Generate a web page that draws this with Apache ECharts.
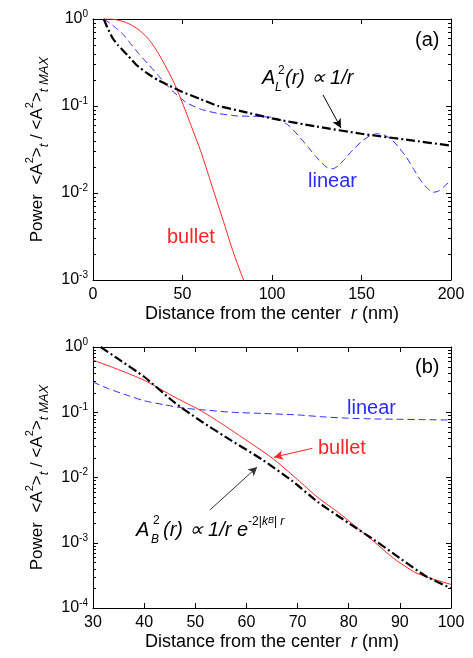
<!DOCTYPE html>
<html>
<head>
<meta charset="utf-8">
<script src="https://cdn.jsdelivr.net/npm/echarts@6/dist/echarts.min.js"></script>
<style>
  html, body { margin: 0; padding: 0; background: #fff; }
  #chart { width: 473px; height: 658px; }
</style>
</head>
<body>
<div id="chart"></div>
<script>
// ── Panel (a): 0..200 nm ─────────────────────────────────────────────────
const aBulletR = [6, 10, 14, 18, 22, 26, 30, 33, 36, 40, 45, 50, 55, 60, 65, 69, 74, 78, 82, 86];
const aBulletP = [1.0, 1.0, 0.97, 0.92, 0.84, 0.74, 0.62, 0.52, 0.42, 0.3, 0.19, 0.108, 0.058, 0.031, 0.015, 0.0083, 0.004, 0.0022, 0.0013, 0.0008];

const aLinearR = [6, 10, 13, 17, 21, 26, 31, 36, 40, 45, 52, 60, 70, 80, 90, 100, 105, 110, 115, 120, 124, 128, 131, 134, 137, 141, 145, 150, 155, 159, 163, 167, 171, 175, 179, 183, 187, 190, 193, 196, 200];
const aLinearP = [1.0, 0.88, 0.78, 0.66, 0.52, 0.39, 0.3, 0.23, 0.185, 0.145, 0.11, 0.092, 0.082, 0.077, 0.076, 0.074, 0.069, 0.058, 0.045, 0.034, 0.027, 0.022, 0.0195, 0.019, 0.0205, 0.025, 0.031, 0.039, 0.046, 0.048, 0.046, 0.041, 0.033, 0.026, 0.019, 0.014, 0.0112, 0.0102, 0.0105, 0.0118, 0.014];

const aFitR = [6, 8, 11, 14, 17, 20, 24, 30, 36, 43, 50, 60, 70, 82, 100, 125, 150, 175, 200];
const aFitP = [1.0, 0.8, 0.6, 0.5, 0.43, 0.37, 0.3, 0.24, 0.2, 0.17, 0.145, 0.12, 0.1, 0.088, 0.072, 0.058, 0.048, 0.041, 0.035];

// ── Panel (b): 30..100 nm ────────────────────────────────────────────────
const bBulletR = [30, 35, 40, 46, 51, 55, 59, 65, 70, 74, 78, 84, 89, 93, 97, 100];
const bBulletP = [0.63, 0.45, 0.31, 0.17, 0.107, 0.068, 0.042, 0.02, 0.0093, 0.0049, 0.0029, 0.0012, 0.00056, 0.00035, 0.00027, 0.00023];

const bLinearR = [30, 33, 36, 40, 44, 48, 52, 57, 63, 70, 75, 80, 85, 90, 95, 100];
const bLinearP = [0.29, 0.23, 0.19, 0.15, 0.13, 0.115, 0.108, 0.1, 0.096, 0.091, 0.085, 0.081, 0.079, 0.078, 0.077, 0.076];

const bFitR = [31.5, 35, 40, 46, 51, 57, 63, 69, 74, 80, 85, 90, 95, 100];
const bFitP = [1.0, 0.65, 0.35, 0.14, 0.074, 0.037, 0.019, 0.0088, 0.0042, 0.002, 0.0011, 0.00058, 0.00031, 0.0002];

// axis ranges / tick steps
const aXTicks = [0, 200, 50];
const bXTicks = [30, 100, 10];
const aYRange = [1e-3, 1];
const bYRange = [1e-4, 1];
const minorMantissa = [2, 3, 4, 5, 6, 7, 8, 9];

const RED = '#ff2424';
const BLUE = '#2b2bff';
const FONT = '"Liberation Sans", Arial, sans-serif';

const zip = (xs, ys) => xs.map((x, i) => [x, ys[i]]);

// minor ticks of a log axis (2..9 within each decade), drawn on both edges
function minorTicks(range, xAt) {
  const out = [];
  const lo = Math.round(Math.log10(range[0]));
  const hi = Math.round(Math.log10(range[1]));
  for (let k = lo; k < hi; k++) {
    minorMantissa.forEach(m => out.push([xAt, m * Math.pow(10, k)]));
  }
  return out;
}

function minorTickItem(params, api) {
  const cs = params.coordSys;
  const y = Math.round(api.coord([api.value(0), api.value(1)])[1]) + 0.5;
  const st = { stroke: '#000', lineWidth: 1 };
  return {
    type: 'group',
    children: [
      { type: 'line', shape: { x1: cs.x, y1: y, x2: cs.x + 3, y2: y }, style: st },
      { type: 'line', shape: { x1: cs.x + cs.width - 3, y1: y, x2: cs.x + cs.width, y2: y }, style: st },
    ],
  };
}

const supRich = {
  b: { fontSize: 16, fontFamily: FONT, color: '#000', lineHeight: 20 },
  s: { fontSize: 10, fontFamily: FONT, color: '#000', verticalAlign: 'top', lineHeight: 10 },
};

function xAxes(gridIndex, t) {
  const common = {
    gridIndex, type: 'value', min: t[0], max: t[1], interval: t[2],
    axisLine: { show: true, onZero: false, lineStyle: { color: '#000', width: 1 } },
    axisTick: { show: true, inside: true, length: 5, lineStyle: { color: '#000' } },
    splitLine: { show: false },
  };
  return [
    Object.assign({}, common, {
      position: 'bottom',
      axisLabel: { show: true, margin: 7, fontSize: 16, fontFamily: FONT, color: '#000' },
      name: '{n|Distance from the center  }{i|r}{n| (nm)}',
      nameLocation: 'middle',
      nameGap: 25,
      nameTextStyle: {
        rich: {
          n: { fontSize: 18, fontFamily: FONT, color: '#000' },
          i: { fontSize: 18, fontFamily: FONT, color: '#000', fontStyle: 'italic' },
        },
      },
    }),
    Object.assign({}, common, { position: 'top', axisLabel: { show: false } }),
  ];
}

function yAxes(gridIndex, range) {
  const common = {
    gridIndex, type: 'log', logBase: 10, min: range[0], max: range[1],
    axisLine: { show: true, onZero: false, lineStyle: { color: '#000', width: 1 } },
    axisTick: { show: true, inside: true, length: 5, lineStyle: { color: '#000' } },
    splitLine: { show: false },
    minorTick: { show: false },
  };
  return [
    Object.assign({}, common, {
      position: 'left',
      axisLabel: {
        show: true, margin: 5,
        formatter: v => '{b|10}{s|' + Math.round(Math.log10(v)) + '}',
        rich: supRich,
      },
      name: '{n|Power  <A}{s|2}{n|>}{t|t}{n| / <A}{s|2}{n|>}{t|t MAX}',
      nameLocation: 'middle',
      nameGap: 37,
      nameTextStyle: {
        rich: {
          n: { fontSize: 17, fontFamily: FONT, color: '#000', lineHeight: 26 },
          s: { fontSize: 11, fontFamily: FONT, color: '#000', verticalAlign: 'top', lineHeight: 11 },
          t: { fontSize: 13, fontFamily: FONT, color: '#000', fontStyle: 'italic', verticalAlign: 'bottom', lineHeight: 13 },
        },
      },
    }),
    Object.assign({}, common, { position: 'right', axisLabel: { show: false } }),
  ];
}

function lineSeries(xi, yi, data, color, width, type, extra) {
  return Object.assign({
    type: 'line', xAxisIndex: xi, yAxisIndex: yi, data,
    showSymbol: false, symbol: 'none', smooth: 0.2, clip: true, silent: true,
    lineStyle: { color, width, type },
    z: 3,
  }, extra || {});
}

function arrow(from, to, color) {
  return {
    silent: true, symbol: ['none', 'arrow'], symbolSize: [7, 9],
    label: { show: false },
    lineStyle: { color, width: 1, type: 'solid' },
    data: [[{ coord: from }, { coord: to }]],
  };
}

function label(text, x, y, color, size) {
  return {
    type: 'text', left: x, top: y, silent: true,
    style: { text, fill: color, fontSize: size || 20, fontFamily: FONT },
  };
}

function italic(text, x, y, size) {
  return {
    type: 'text', left: x, top: y, silent: true,
    style: { text, fill: '#000', fontSize: size, fontStyle: 'italic', fontFamily: FONT },
  };
}

const expRich = {
  m: { fontSize: 20, fontFamily: FONT, fontStyle: 'italic', color: '#000', lineHeight: 28 },
  s: { fontSize: 12, fontFamily: FONT, color: '#000', verticalAlign: 'top', lineHeight: 12 },
  si: { fontSize: 12, fontFamily: FONT, fontStyle: 'italic', color: '#000', verticalAlign: 'top', lineHeight: 12 },
  ss: { fontSize: 9, fontFamily: FONT, fontStyle: 'italic', color: '#000', verticalAlign: 'top', lineHeight: 17 },
};

const chart = echarts.init(document.getElementById('chart'), null, { renderer: 'canvas' });

chart.setOption({
  backgroundColor: '#fff',
  animation: false,
  grid: [
    { left: 93, top: 19, width: 358, height: 261 },
    { left: 93, top: 347, width: 358, height: 261 },
  ],
  xAxis: [].concat(xAxes(0, aXTicks), xAxes(1, bXTicks)),
  yAxis: [].concat(yAxes(0, aYRange), yAxes(1, bYRange)),
  series: [
    // panel (a)
    lineSeries(0, 0, zip(aLinearR, aLinearP), BLUE, 1, [7, 4]),
    lineSeries(0, 0, zip(aBulletR, aBulletP), RED, 1, 'solid'),
    lineSeries(0, 0, zip(aFitR, aFitP), '#000', 2.2, [9, 3, 2, 3], {
      markLine: arrow([128.5, 0.134], [138.5, 0.056], '#000'),
    }),
    {
      type: 'custom', xAxisIndex: 0, yAxisIndex: 0, silent: true,
      renderItem: minorTickItem, data: minorTicks(aYRange, aXTicks[0]), z: 4,
    },
    // panel (b)
    lineSeries(2, 2, zip(bLinearR, bLinearP), BLUE, 1, [7, 4]),
    lineSeries(2, 2, zip(bBulletR, bBulletP), RED, 1, 'solid', {
      markLine: arrow([72.9, 0.028], [65.4, 0.0205], RED),
    }),
    lineSeries(2, 2, zip(bFitR, bFitP), '#000', 2.2, [9, 3, 2, 3], {
      markLine: arrow([52.9, 0.0032], [62.1, 0.0145], '#333'),
    }),
    {
      type: 'custom', xAxisIndex: 2, yAxisIndex: 2, silent: true,
      renderItem: minorTickItem, data: minorTicks(bYRange, bXTicks[0]), z: 4,
    },
  ],
  graphic: [
    label('(a)', 415, 30, '#000'),
    label('linear', 308, 171, BLUE),
    label('bullet', 167, 227, RED),
    // A_L^2(r) ∝ 1/r
    italic('A', 262, 68, 20),
    { type: 'text', left: 278, top: 65, silent: true,
      style: { text: '2', fill: '#000', fontSize: 12, fontFamily: FONT } },
    italic('L', 275, 82, 12),
    italic('(r) \u221d 1/r', 285, 68, 20),

    label('(b)', 415, 357, '#000'),
    label('linear', 347, 398, BLUE),
    label('bullet', 318, 438, RED),
    // A_B^2(r) ∝ 1/r e^{-2|k_B| r}
    italic('A', 136, 520, 20),
    { type: 'text', left: 153, top: 515, silent: true,
      style: { text: '2', fill: '#000', fontSize: 12, fontFamily: FONT } },
    italic('B', 151, 534, 12),
    { type: 'text', left: 163, top: 516, silent: true,
      style: { text: '{m|(r) \u221d 1/r e}{s|-2|}{si|k}{ss|B}{s|| }{si|r}', rich: expRich } },
  ],
});
</script>
</body>
</html>
